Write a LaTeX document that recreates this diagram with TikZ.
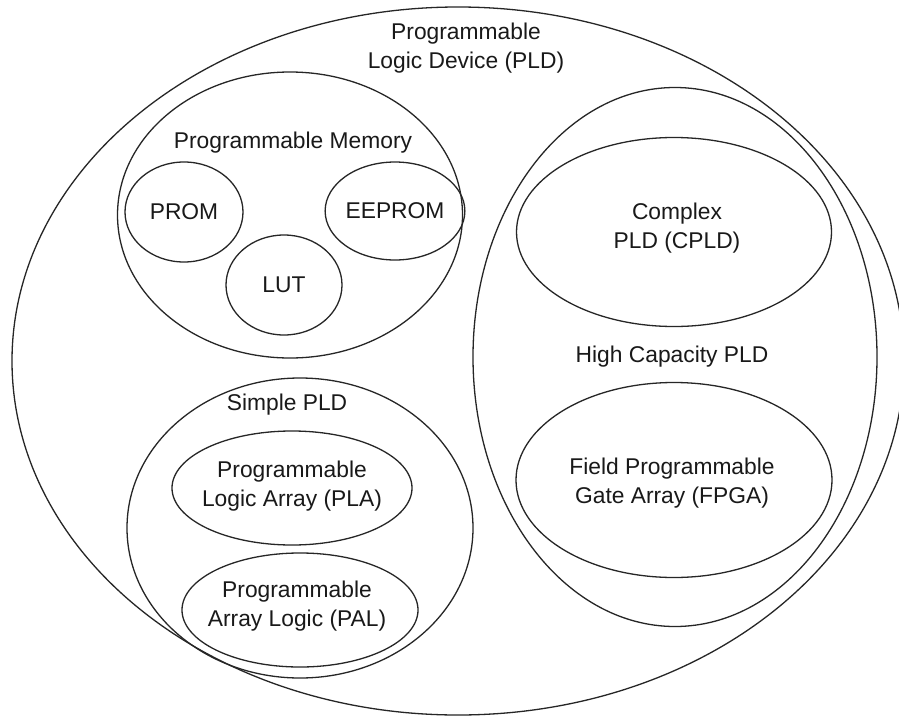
\documentclass[tikz,border=0pt]{standalone}
\usepackage{fontspec}
\setmainfont{Liberation Sans}
\usetikzlibrary{shapes.geometric}
\begin{document}
\begin{tikzpicture}[x=1pt,y=-1pt,
  oval/.style={ellipse,draw=black!85,line width=1.3pt,inner sep=0pt,outer sep=0pt},
  lbl/.style={font=\fontsize{22.8}{29}\selectfont,text=black!90,align=center,inner sep=0pt}]
\useasboundingbox (0,0) rectangle (899,717);
\fill[white] (0,0) rectangle (899,717);
% outer
\node[oval,minimum width=892pt,minimum height=708pt] (pld) at (458,361) {};
\node[lbl] (pldt) at (466,48) {Programmable\\Logic Device (PLD)};
% programmable memory
\node[oval,minimum width=345pt,minimum height=286pt] (pm) at (290,215) {};
\node[lbl] (pmt) at (293,143) {Programmable Memory};
\node[oval,minimum width=118pt,minimum height=100pt,lbl] (prom) at (184,212) {PROM};
\node[oval,minimum width=124pt,minimum height=98pt,lbl] (eeprom) at (395,211) {EEPROM};
\node[oval,minimum width=116pt,minimum height=100pt,lbl] (lut) at (284,285) {LUT};
% simple PLD
\node[oval,minimum width=346pt,minimum height=300pt] (spld) at (300,528) {};
\node[lbl] (spldt) at (287,405) {Simple PLD};
\node[oval,minimum width=240pt,minimum height=114pt] (pla) at (292,488) {};
\node[lbl] (plat) at (292,486) {Programmable\\Logic Array (PLA)};
\node[oval,minimum width=236pt,minimum height=114pt] (pal) at (300,610) {};
\node[lbl] (palt) at (297,606) {Programmable\\Array Logic (PAL)};
% high capacity
\node[oval,minimum width=404pt,minimum height=539pt] (hc) at (675,357) {};
\node[lbl] (hct) at (672,357) {High Capacity PLD};
\node[oval,minimum width=315pt,minimum height=189pt] (cpld) at (674,232) {};
\node[lbl] (cpldt) at (677,228) {Complex\\PLD (CPLD)};
\node[oval,minimum width=316pt,minimum height=195pt] (fpga) at (674,480) {};
\node[lbl] (fpgat) at (672,483) {Field Programmable\\Gate Array (FPGA)};
\end{tikzpicture}
\end{document}
